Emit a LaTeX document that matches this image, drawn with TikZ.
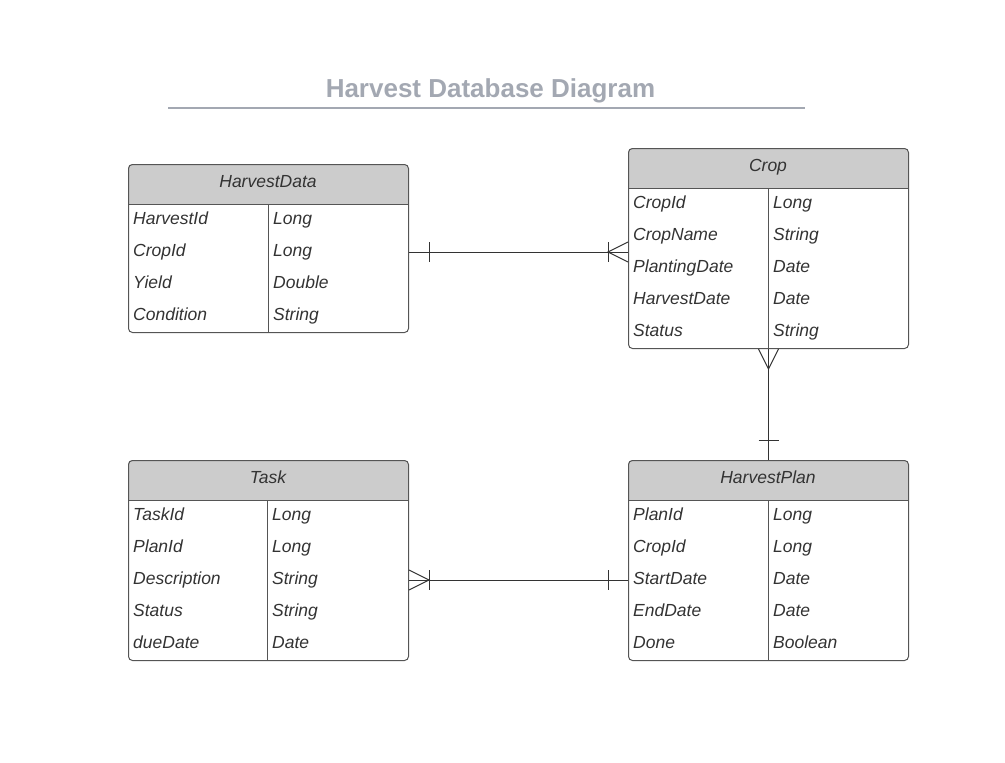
\documentclass[tikz,border=0pt]{standalone}
\usepackage{fontspec}
\setmainfont{Liberation Sans}
\usetikzlibrary{calc}
\definecolor{titlegray}{HTML}{A3A8B2}
\definecolor{hdrgray}{HTML}{CCCCCC}
\definecolor{edgegray}{HTML}{555555}
\definecolor{txt}{HTML}{333333}
\tikzset{
  tbox/.style={draw=edgegray, line width=1pt, rounded corners=4pt, minimum width=280pt, inner sep=0pt, anchor=north west},
  cell/.style={font=\fontsize{17.5}{20}\selectfont\itshape, text=txt, inner sep=0pt, anchor=base west},
  hdrtext/.style={font=\fontsize{17.5}{20}\selectfont\itshape, text=txt, inner sep=0pt, anchor=base},
  conn/.style={draw=txt, line width=1pt},
  grid/.style={draw=edgegray, line width=1pt}
}
% #1 name, #2 x, #3 y, #4 divider offset, #5 title, #6 nrows, #7 rows key/type
\newcommand\ertable[7]{%
  \fill[hdrgray] (#2,#3+40) [rounded corners=4pt] -- (#2,#3) -- (#2+280,#3) [sharp corners] -- (#2+280,#3+40) -- cycle;
  \node[tbox, minimum height={40+32*#6}] (#1) at (#2,#3) {};
  \draw[grid] (#2,#3+40) -- (#2+280,#3+40);
  \draw[grid] (#2+#4,#3+40) -- (#2+#4,#3+40+32*#6);
  \node[hdrtext] (#1-title) at (#2+140,#3+23.5) {#5};
  \foreach \k/\t [count=\i] in {#7} {
    \node[cell] (#1-k\i) at (#2+5,#3+40+32*\i-12) {\k};
    \node[cell] (#1-t\i) at (#2+#4+5,#3+40+32*\i-12) {\t};
  }
}
\begin{document}
\begin{tikzpicture}[x=1pt,y=-1pt]
\useasboundingbox (0,0) rectangle (1005,763);
\node[font=\fontsize{26}{30}\selectfont\bfseries, text=titlegray, inner sep=0pt, anchor=base] (title) at (490.5,97) {Harvest Database Diagram};
\coordinate (tl1) at (168,107.5);
\coordinate (tl2) at (805,107.5);
\draw[draw=titlegray, line width=2pt] (tl1) -- (tl2);

\ertable{hd}{128}{164}{140}{HarvestData}{4}{HarvestId/Long, CropId/Long, Yield/Double, Condition/String}
\ertable{crop}{628}{148}{140}{Crop}{5}{CropId/Long, CropName/String, PlantingDate/Date, HarvestDate/Date, Status/String}
\ertable{task}{128}{460}{139}{Task}{5}{TaskId/Long, PlanId/Long, Description/String, Status/String, dueDate/Date}
\ertable{plan}{628}{460}{140}{HarvestPlan}{5}{PlanId/Long, CropId/Long, StartDate/Date, EndDate/Date, Done/Boolean}

% HarvestData -- Crop (one to many)
\coordinate (a1) at ($(hd.north east)+(0,88)$);
\draw[conn] (a1) -- (crop.west |- a1);
\draw[conn] ($(a1)+(20,-10)$) -- ($(a1)+(20,10)$);
\draw[conn] ($(crop.west |- a1)+(-20,-10)$) -- ($(crop.west |- a1)+(-20,10)$);
\draw[conn] ($(crop.west |- a1)+(0,-10)$) -- ($(crop.west |- a1)+(-20,0)$) -- ($(crop.west |- a1)+(0,10)$);

% Crop -- HarvestPlan
\draw[conn] (crop.south) -- (plan.north);
\draw[conn] ($(crop.south)+(-10,0)$) -- ($(crop.south)+(0,20)$) -- ($(crop.south)+(10,0)$);
\draw[conn] ($(plan.north)+(-10,-20)$) -- ($(plan.north)+(10,-20)$);

% Task -- HarvestPlan
\coordinate (b1) at ($(task.north east)+(0,120)$);
\draw[conn] (b1) -- (plan.west |- b1);
\draw[conn] ($(b1)+(0,-10)$) -- ($(b1)+(20,0)$) -- ($(b1)+(0,10)$);
\draw[conn] ($(b1)+(20,-10)$) -- ($(b1)+(20,10)$);
\draw[conn] ($(plan.west |- b1)+(-20,-10)$) -- ($(plan.west |- b1)+(-20,10)$);
\end{tikzpicture}
\end{document}
